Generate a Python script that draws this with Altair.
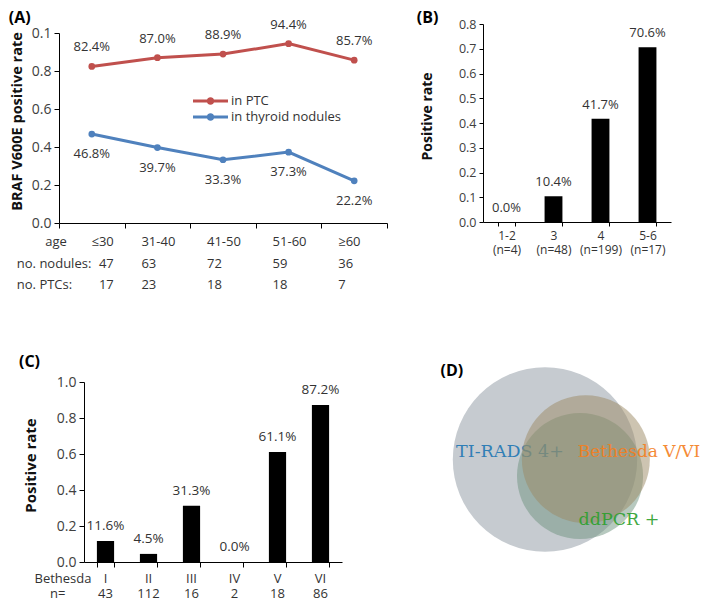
import altair as alt
import pandas as pd

# ---------------- data ----------------
# (A) BRAF V600E positive rate by age group
age_groups = ["≤30", "31-40", "41-50", "51-60", "≥60"]
series_names = ["in PTC", "in thyroid nodules"]
rate_ptc = [0.824, 0.870, 0.889, 0.944, 0.857]
rate_nodules = [0.468, 0.397, 0.333, 0.373, 0.222]
n_nodules = [47, 63, 72, 59, 36]
n_ptcs = [17, 23, 18, 18, 7]
rows_a = ["age", "no. nodules:", "no. PTCs:"]

# (B) positive rate by TI-RADS category
tirads = ["1-2", "3", "4", "5-6"]
tirads_n = [4, 48, 199, 17]
tirads_rate = [0.0, 0.104, 0.417, 0.706]

# (C) positive rate by Bethesda category
bethesda = ["I", "II", "III", "IV", "V", "VI"]
bethesda_n = [43, 112, 16, 2, 18, 86]
bethesda_rate = [0.116, 0.045, 0.313, 0.0, 0.611, 0.872]
rows_c = ["Bethesda", "n="]

# (D) Venn diagram
venn_sets = ["TI-RADS 4+", "Bethesda V/VI", "ddPCR +"]
venn_sizes = [216, 104, 101]
venn_cx = [0.0, 0.443, 0.380]
venn_cy = [0.0, 0.003, -0.179]
venn_label_x = [-0.38, 1.02, 0.803]
venn_label_y = [0.081, 0.081, -0.656]

# ---------------- layout helpers ----------------
W, H = 693, 594


def px(v):
    """reference page pixel -> chart pixel (8px page margin)"""
    return v - 8


FONT = "Open Sans"
TXT = "#333333"
SERIES_COLORS = ["#c0504d", "#4f81bd"]

# ================= Panel A =================
dfA = pd.DataFrame({
    "age": age_groups * 2,
    "rate": rate_ptc + rate_nodules,
    "series": [series_names[0]] * len(age_groups) + [series_names[1]] * len(age_groups),
})
xA = alt.X("age:N", sort=age_groups,
           scale=alt.Scale(type="band", domain=age_groups, range=[px(59), px(387)],
                           paddingInner=0, paddingOuter=0),
           axis=alt.Axis(orient="bottom", offset=px(223) - H, labels=False, tickBand="extent",
                         tickSize=5, title=None))
yA = alt.Y("rate:Q",
           scale=alt.Scale(domain=[0, 1], range=[px(223), px(33)], nice=False, zero=False),
           axis=alt.Axis(orient="left", offset=-px(59), values=[0, 0.2, 0.4, 0.6, 0.8, 1.0],
                         labelExpr="datum.value == 1 ? '0.1' : format(datum.value, '.1f')",
                         tickSize=5, labelFontSize=14, labelPadding=3,
                         title="BRAF V600E positive rate", titleFontSize=14.5,
                         titleX=px(17.5) - px(59), titleY=px(121), titleAngle=270,
                         titleAlign="center", titleBaseline="middle"))
colA = alt.Color("series:N", scale=alt.Scale(domain=series_names, range=SERIES_COLORS), legend=None)
baseA = alt.Chart(dfA)
lineA = baseA.mark_line(strokeWidth=3).encode(x=xA, y=yA, color=colA)
ptsA = baseA.mark_point(filled=True, size=45, opacity=1).encode(x=xA, y=yA, color=colA)
labA1 = baseA.transform_filter(alt.datum.series == series_names[0]).mark_text(
    dy=-19, fontSize=13, color=TXT).encode(x=xA, y=yA, text=alt.Text("rate:Q", format=".1%"))
labA2 = baseA.transform_filter(alt.datum.series == series_names[1]).mark_text(
    dy=20, fontSize=13, color=TXT).encode(x=xA, y=yA, text=alt.Text("rate:Q", format=".1%"))
letterA = alt.Chart(pd.DataFrame({"t": ["(A)"]})).mark_text(
    fontSize=16, fontWeight="bold", color="black", baseline="top", dx=-72, dy=-23).encode(
    x=alt.datum(age_groups[0]), y=alt.datum(1.0), text="t:N")
plotA = alt.layer(lineA, ptsA, labA1, labA2, letterA)

# legend (line with marker + label), drawn from the series list
dfL = pd.DataFrame({"series": series_names})
yL = alt.Y("series:N", scale=alt.Scale(type="point", domain=series_names, range=[px(101), px(117)], padding=0),
           axis=None)
legend_shape = ("M-6,-0.3H1V0.3H-6Z "
                "M-3.25,0A0.75,0.75,0,1,1,-1.75,0A0.75,0.75,0,1,1,-3.25,0Z")
legSym = alt.Chart(dfL).mark_point(shape=legend_shape, filled=True, size=100, opacity=1).encode(
    x=alt.datum(age_groups[2]), y=yL, color=colA)
legTxt = alt.Chart(dfL).mark_text(align="left", dx=8, fontSize=13, color=TXT).encode(
    x=alt.datum(age_groups[2]), y=yL, text="series:N")
legA = alt.layer(legSym, legTxt)

tableA = pd.DataFrame({
    "row": [rows_a[0]] * 5 + [rows_a[1]] * 5 + [rows_a[2]] * 5,
    "age": age_groups * 3,
    "text": age_groups + [str(v) for v in n_nodules] + [str(v) for v in n_ptcs],
})
headA = pd.DataFrame({"row": rows_a, "age": [age_groups[0]] * 3, "text": rows_a})
yTA = alt.Y("row:N", scale=alt.Scale(type="point", domain=rows_a, range=[px(242), px(285)], padding=0),
            axis=None)
tA1 = alt.Chart(tableA).transform_filter(alt.datum.age == age_groups[0]).mark_text(
    align="right", dx=22, fontSize=13, color=TXT).encode(x=xA, y=yTA, text="text:N")
tA2 = alt.Chart(tableA).transform_filter(alt.datum.age != age_groups[0]).mark_text(
    align="left", dx=-16, fontSize=13, color=TXT).encode(x=xA, y=yTA, text="text:N")
hA1 = alt.Chart(headA).transform_filter(alt.datum.row == rows_a[0]).mark_text(
    align="right", dx=-25, fontSize=13, color=TXT).encode(x=xA, y=yTA, text="text:N")
hA2 = alt.Chart(headA).transform_filter(alt.datum.row != rows_a[0]).mark_text(
    align="left", dx=-75, fontSize=13, color=TXT).encode(x=xA, y=yTA, text="text:N")
tabA = alt.layer(tA1, tA2, hA1, hA2)
panelA = alt.layer(plotA, legA, tabA).resolve_scale(y="independent")

# ================= Panel B =================
catsB = [f"{t}|(n={n})" for t, n in zip(tirads, tirads_n)]
dfB = pd.DataFrame({"cat": catsB, "rate": tirads_rate})
xB = alt.X("cat:N", sort=catsB,
           scale=alt.Scale(type="band", domain=catsB, range=[px(483), px(671)],
                           paddingInner=0.62, paddingOuter=0.31),
           axis=alt.Axis(orient="bottom", offset=px(222) - H, tickBand="extent", tickSize=4,
                         labelExpr="split(datum.label, '|')", labelFontSize=12, labelLineHeight=14,
                         labelPadding=4, labelColor=TXT, title=None, labelAngle=0,
                         labelOverlap=False))
yB = alt.Y("rate:Q", scale=alt.Scale(domain=[0, 0.8], range=[px(222), px(24)], nice=False, zero=False),
           axis=alt.Axis(orient="left", offset=-px(483), values=[0, 0.1, 0.2, 0.3, 0.4, 0.5, 0.6, 0.7, 0.8],
                         format=".1f", tickSize=4, labelFontSize=12.5, labelPadding=3,
                         title="Positive rate", titleFontSize=14,
                         titleX=px(427) - px(483), titleY=px(116), titleAngle=270,
                         titleAlign="center", titleBaseline="middle"))
barsB = alt.Chart(dfB).mark_bar(color="black").encode(x=xB, y=yB)
labB = alt.Chart(dfB).mark_text(dy=-14, fontSize=13, color=TXT).encode(
    x=xB, y=yB, text=alt.Text("rate:Q", format=".1%"))
letterB = alt.Chart(pd.DataFrame({"t": ["(B)"]})).mark_text(
    fontSize=16, fontWeight="bold", color="black", baseline="top", dx=-79, dy=-14).encode(
    x=alt.datum(catsB[0]), y=alt.datum(0.8), text="t:N")
panelB = alt.layer(barsB, labB, letterB)

# ================= Panel C =================
dfC = pd.DataFrame({"cat": bethesda, "rate": bethesda_rate})
xC = alt.X("cat:N", sort=bethesda,
           scale=alt.Scale(type="band", domain=bethesda, range=[px(84), px(342)],
                           paddingInner=0.6, paddingOuter=0.3),
           axis=alt.Axis(orient="bottom", offset=px(562) - H, tickBand="extent", tickSize=5,
                         labels=False, title=None))
yC = alt.Y("rate:Q", scale=alt.Scale(domain=[0, 1], range=[px(562), px(382)], nice=False, zero=False),
           axis=alt.Axis(orient="left", offset=-px(84), values=[0, 0.2, 0.4, 0.6, 0.8, 1.0],
                         format=".1f", tickSize=5, labelFontSize=14, labelPadding=3,
                         title="Positive rate", titleFontSize=15,
                         titleX=px(30) - px(84), titleY=px(465), titleAngle=270,
                         titleAlign="center", titleBaseline="middle"))
barsC = alt.Chart(dfC).mark_bar(color="black").encode(x=xC, y=yC)
labC = alt.Chart(dfC).mark_text(dy=-15, fontSize=13.5, color=TXT).encode(
    x=xC, y=yC, text=alt.Text("rate:Q", format=".1%"))
letterC = alt.Chart(pd.DataFrame({"t": ["(C)"]})).mark_text(
    fontSize=16, fontWeight="bold", color="black", dx=-76, dy=-20).encode(
    x=alt.datum(bethesda[0]), y=alt.datum(1.0), text="t:N")
plotC = alt.layer(barsC, labC, letterC)

tableC = pd.DataFrame({
    "row": [rows_c[0]] * 6 + [rows_c[1]] * 6,
    "cat": bethesda * 2,
    "text": bethesda + [str(v) for v in bethesda_n],
})
headC = pd.DataFrame({"row": rows_c, "cat": [bethesda[0]] * 2, "text": rows_c})
yTC = alt.Y("row:N", scale=alt.Scale(type="point", domain=rows_c, range=[px(579), px(594)], padding=0),
            axis=None)
tC = alt.Chart(tableC).mark_text(fontSize=13, color=TXT).encode(x=xC, y=yTC, text="text:N")
hC1 = alt.Chart(headC).transform_filter(alt.datum.row == rows_c[0]).mark_text(
    align="right", dx=-14, fontSize=13, color=TXT).encode(x=xC, y=yTC, text="text:N")
hC2 = alt.Chart(headC).transform_filter(alt.datum.row == rows_c[1]).mark_text(
    align="right", dx=-40, fontSize=13, color=TXT).encode(x=xC, y=yTC, text="text:N")
tabC = alt.layer(tC, hC1, hC2)
panelC = alt.layer(plotC, tabC).resolve_scale(y="independent")

# ================= Panel D =================
dfD = pd.DataFrame({"set": venn_sets, "size": venn_sizes, "cx": venn_cx, "cy": venn_cy,
                    "lx": venn_label_x, "ly": venn_label_y})
R = 92.2
sxD = alt.Scale(domain=[-1, 1], range=[px(545 - R), px(545 + R)], nice=False, zero=False)
syD = alt.Scale(domain=[-1, 1], range=[px(459.5 + R), px(459.5 - R)], nice=False, zero=False)
sizeD = alt.Size("size:Q", scale=alt.Scale(type="linear", domain=[0, max(venn_sizes)],
                                           range=[0, (2 * R) ** 2], zero=True), legend=None)
baseD = alt.Chart(dfD)


def circle(i, color, op):
    return baseD.transform_filter(alt.datum.set == venn_sets[i]).mark_circle(
        color=color, opacity=op, strokeWidth=0).encode(
        x=alt.X("cx:Q", scale=sxD, axis=None), y=alt.Y("cy:Q", scale=syD, axis=None), size=sizeD)


def vlabel(i, color, op, fs):
    return baseD.transform_filter(alt.datum.set == venn_sets[i]).mark_text(
        font="DejaVu Serif", fontSize=fs, color=color, opacity=op).encode(
        x=alt.X("lx:Q", scale=sxD, axis=None), y=alt.Y("ly:Q", scale=syD, axis=None), text="set:N")


letterD = alt.Chart(pd.DataFrame({"t": ["(D)"]})).mark_text(
    fontSize=16, fontWeight="bold", color="black", dx=-1, dy=4).encode(
    x=alt.datum(-1), y=alt.datum(1), text="t:N")
panelD = alt.layer(
    circle(0, "#c6cbd0", 1.0),
    vlabel(0, "#1f77b4", 0.9, 17.5),
    circle(2, "#709380", 0.5),
    circle(1, "#9b8a64", 0.5),
    vlabel(1, "#f57f1e", 0.9, 17),
    vlabel(2, "#2ca02c", 0.9, 17.5),
    letterD,
)

chart = alt.layer(panelA, panelB, panelC, panelD).resolve_scale(
    x="independent", y="independent"
).resolve_axis(x="independent", y="independent").properties(
    width=W, height=H, autosize=alt.AutoSizeParams(type="none"), padding=0
).configure(font=FONT).configure_view(stroke=None).configure_axis(
    grid=False, domainColor="black", tickColor="black", labelColor="#404040",
    titleColor="#111111", titleFontWeight="bold", labelFont=FONT, titleFont=FONT
)

chart.save("out.html", embed_options={"renderer": "svg", "actions": False})
